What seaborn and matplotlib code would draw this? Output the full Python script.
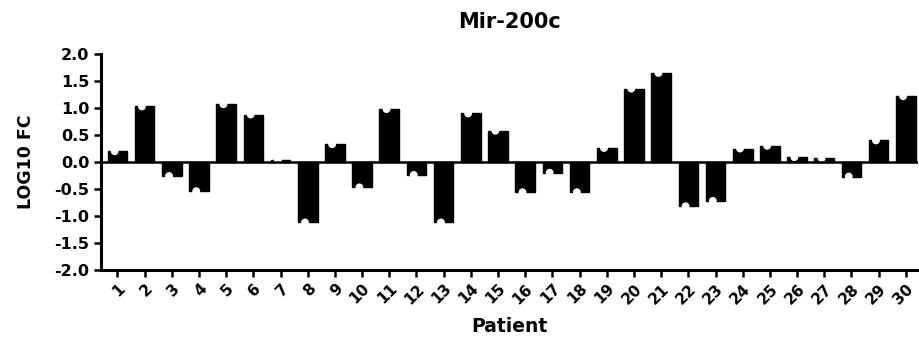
import numpy as np
import pandas as pd
import matplotlib
matplotlib.use('Agg')
import matplotlib.pyplot as plt
import seaborn as sns

patients = [str(i) for i in range(1, 31)]
log10_fc = [0.20, 1.03, -0.26, -0.54, 1.07, 0.88, 0.03, -1.12, 0.33, -0.47,
            0.98, -0.24, -1.12, 0.90, 0.58, -0.56, -0.20, -0.56, 0.26, 1.36,
            1.65, -0.82, -0.72, 0.25, 0.30, 0.09, 0.07, -0.27, 0.40, 1.22]
yticks = [-2.0, -1.5, -1.0, -0.5, 0.0, 0.5, 1.0, 1.5, 2.0]

df = pd.DataFrame({'Patient': patients, 'LOG10 FC': log10_fc})

sns.set_style('ticks')
plt.rcParams['font.family'] = ['DejaVu Sans']
plt.rcParams['font.weight'] = 'bold'
for key in ['text.color', 'axes.labelcolor', 'xtick.color', 'ytick.color',
            'axes.edgecolor']:
    plt.rcParams[key] = 'black'

fig = plt.figure(figsize=(9.19, 3.4), dpi=100)
ax = fig.add_axes([0.110, 0.206, 0.889, 0.635])

sns.barplot(data=df, x='Patient', y='LOG10 FC', color='black', width=0.72,
            saturation=1, edgecolor='black', ax=ax, zorder=2)

# white caps on the bar ends, like the original's error bar caps
xs = np.arange(len(patients))
ax.scatter(xs - 0.1, df['LOG10 FC'], s=32, color='white', zorder=3,
           edgecolors='none')
ax.axhline(0, color='black', lw=1.8, zorder=4)

ax.set_ylim(-2.0, 2.0)
ax.set_xlim(-0.6, 29.45)
ax.set_yticks(yticks)
ax.set_yticklabels([f'{t:.1f}' for t in yticks], fontsize=11.5, fontweight='bold')
ax.set_xticks(xs)
ax.set_xticklabels(patients, rotation=45, ha='right', rotation_mode='anchor',
                   fontsize=11, fontweight='bold')
ax.tick_params(axis='both', width=1.8, length=5, direction='out')
ax.tick_params(axis='x', pad=3)

for s in ['top', 'right']:
    ax.spines[s].set_visible(False)
ax.spines['left'].set_linewidth(2.2)
ax.spines['bottom'].set_linewidth(2.2)

ax.set_ylabel('LOG10 FC', fontsize=12.5, fontweight='bold', labelpad=14)
ax.set_xlabel('Patient', fontsize=13.5, fontweight='bold', labelpad=7)
ax.set_title('Mir-200c', fontsize=15, fontweight='bold', pad=19)

fig.savefig('out.png', dpi=100)
